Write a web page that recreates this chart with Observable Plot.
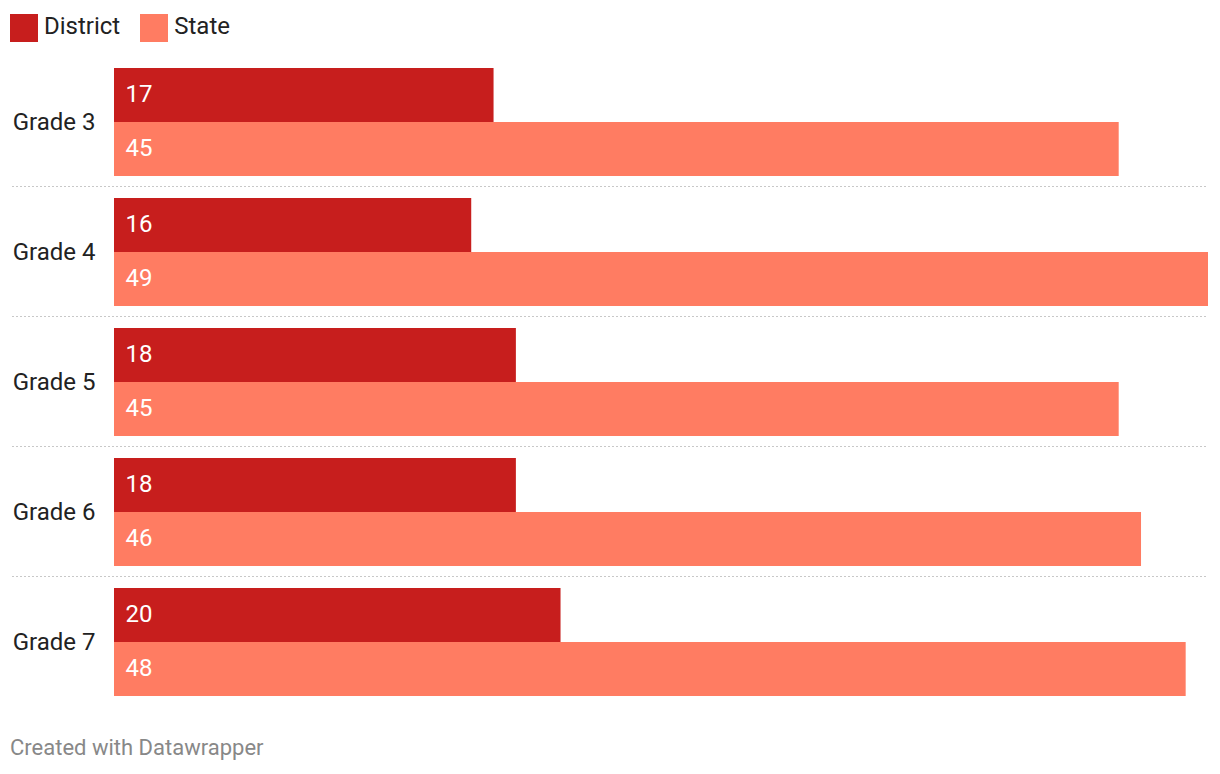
<!DOCTYPE html>
<html>
<head>
<meta charset="utf-8">
<script src="https://cdn.jsdelivr.net/npm/d3@7"></script>
<script src="https://cdn.jsdelivr.net/npm/@observablehq/plot@0.6"></script>
<style>
  html, body { margin: 0; padding: 0; background: #fff; font-family: Roboto, sans-serif; }
  #wrap { position: relative; width: 1220px; height: 774px; }
  #legend { position: absolute; left: 10px; top: 14px; display: flex; align-items: center; font-size: 24px; color: #222; line-height: 28px; }
  .item { display: flex; align-items: center; margin-right: 20px; }
  .item span { position: relative; top: -2px; }
  .sw { width: 28px; height: 28px; margin-right: 6px; }
  #chart { position: absolute; left: 0; top: 56px; }
  #caption { position: absolute; left: 10px; top: 737px; font-size: 22px; color: #888; line-height: 1; }
</style>
</head>
<body>
<div id="wrap">
  <div id="legend"></div>
  <div id="chart"></div>
  <div id="caption">Created with Datawrapper</div>
</div>
<script>
const grades = ["Grade 3", "Grade 4", "Grade 5", "Grade 6", "Grade 7"];
const series = ["District", "State"];
const colors = ["#c71e1d", "#ff7c62"];
const district = [17, 16, 18, 18, 20];
const state = [45, 49, 45, 46, 48];

const data = [];
grades.forEach((g, i) => {
  data.push({grade: g, series: "District", value: district[i]});
  data.push({grade: g, series: "State", value: state[i]});
});

const legend = document.getElementById("legend");
series.forEach((s, i) => {
  const it = document.createElement("div");
  it.className = "item";
  it.innerHTML = `<div class="sw" style="background:${colors[i]}"></div><span>${s}</span>`;
  legend.appendChild(it);
});

const chart = Plot.plot({
  width: 1220,
  height: 660,
  marginTop: 1,
  marginBottom: 9,
  marginLeft: 114,
  marginRight: 12,
  style: {fontFamily: "Roboto, sans-serif", fontSize: "24px", color: "#222", background: "transparent"},
  x: {domain: [0, 49], axis: null},
  fy: {domain: grades, padding: 0, label: null, tickSize: 0, tickPadding: 19},
  y: {domain: series, padding: 0, insetTop: 11, insetBottom: 11, axis: null},
  color: {domain: series, range: colors},
  marks: [
    Plot.barX(data, {x: "value", y: "series", fy: "grade", fill: "series"}),
    Plot.text(data, {x: 0, y: "series", fy: "grade", text: d => String(d.value), textAnchor: "start", dx: 11, dy: -1.5, fill: "white", fontSize: 24}),
    Plot.ruleY(data.filter(d => d.series === "State" && d.grade !== grades[grades.length - 1]),
      {y: "series", fy: "grade", dy: 37, stroke: "#c8c8c8", strokeWidth: 1.2, strokeDasharray: "2,2", insetLeft: -102})
  ]
});
document.getElementById("chart").appendChild(chart);
</script>
</body>
</html>
